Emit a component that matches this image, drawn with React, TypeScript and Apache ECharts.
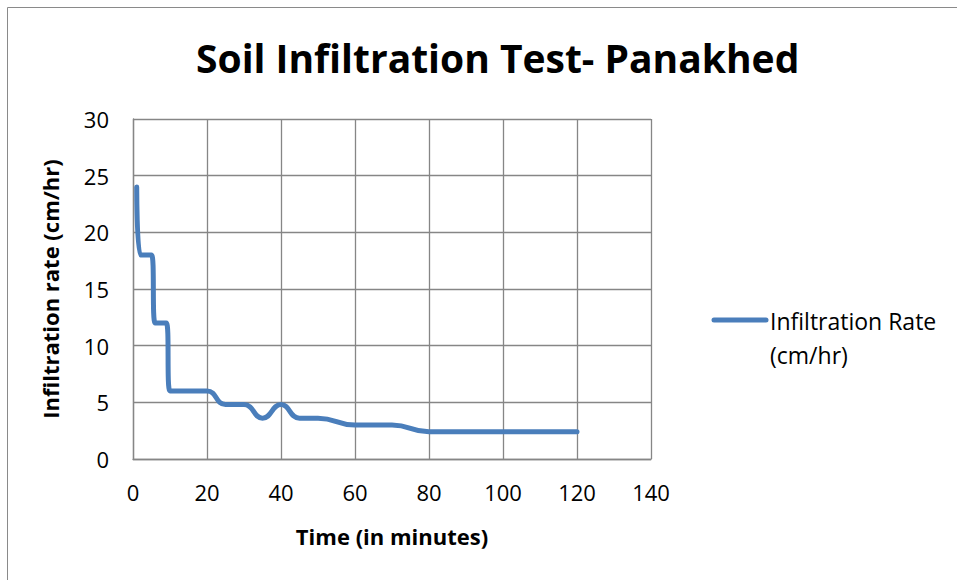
import React, { useEffect, useRef } from "react";
import * as echarts from "echarts";

const timeMinutes = [1, 2, 3, 4, 5, 6, 7, 8, 9, 10, 15, 20, 25, 30, 35, 40, 45, 50, 60, 70, 80, 90, 100, 110, 120];
const infiltrationRate = [24, 18, 18, 18, 18, 12, 12, 12, 12, 6, 6, 6, 4.8, 4.8, 3.6, 4.8, 3.6, 3.6, 3.0, 3.0, 2.4, 2.4, 2.4, 2.4, 2.4];
const titleText = "Soil Infiltration Test- Panakhed";
const legendLines = ["Infiltration Rate", "(cm/hr)"];
const seriesName = legendLines.join(" ");
const xAxisTitle = "Time (in minutes)";
const yAxisTitle = "Infiltration rate (cm/hr)";

export default function App() {
  const ref = useRef<HTMLDivElement>(null);
  useEffect(() => {
    if (!ref.current) return;
    const chart = echarts.init(ref.current, null, { renderer: "svg" });
    const font = "'Open Sans', Lato, sans-serif";
    const gridColor = "#868686";
    const lineColor = "#4a7ebb";
    chart.setOption({
      animation: false,
      backgroundColor: "#ffffff",
      textStyle: { fontFamily: font },
      title: {
        text: titleText,
        left: 191,
        top: 33,
        textStyle: { fontFamily: font, fontWeight: "bold", fontSize: 39, color: "#000" },
      },
      graphic: [
        {
          type: "rect",
          shape: { x: 7.5, y: 7.5, width: 1000, height: 1000 },
          style: { fill: "none", stroke: "#8a8a8a", lineWidth: 1 },
          silent: true,
        },
        {
          type: "line",
          shape: { x1: 714, y1: 320, x2: 766, y2: 320 },
          style: { stroke: lineColor, lineWidth: 5, lineCap: "round" },
          silent: true,
        },
        {
          type: "text",
          x: 770,
          y: 321,
          style: { text: legendLines[0], font: "23px 'Open Sans', sans-serif", fill: "#000", verticalAlign: "middle", align: "left" },
          silent: true,
        },
        {
          type: "text",
          x: 770,
          y: 355,
          style: { text: legendLines[1], font: "23px 'Open Sans', sans-serif", fill: "#000", verticalAlign: "middle", align: "left" },
          silent: true,
        },
      ],
      grid: { left: 133, right: 306, top: 119, bottom: 121 },
      xAxis: {
        type: "value",
        min: 0,
        max: 140,
        interval: 20,
        name: xAxisTitle,
        nameLocation: "middle",
        nameGap: 66,
        nameTextStyle: { fontFamily: font, fontWeight: "bold", fontSize: 22, color: "#000" },
        axisLine: { show: true, lineStyle: { color: gridColor, width: 1.3 } },
        axisTick: { show: false },
        axisLabel: { fontFamily: font, fontSize: 22, color: "#000", margin: 22 },
        splitLine: { show: true, lineStyle: { color: gridColor, width: 1.3 } },
      },
      yAxis: {
        type: "value",
        min: 0,
        max: 30,
        interval: 5,
        name: yAxisTitle,
        nameLocation: "middle",
        nameGap: 72,
        nameRotate: 90,
        nameTextStyle: { fontFamily: font, fontWeight: "bold", fontSize: 22, color: "#000" },
        axisLine: { show: true, lineStyle: { color: gridColor, width: 1.3 } },
        axisTick: { show: false },
        axisLabel: { fontFamily: font, fontSize: 22, color: "#000", margin: 24 },
        splitLine: { show: true, lineStyle: { color: gridColor, width: 1.3 } },
      },
      series: [
        {
          name: seriesName,
          type: "line",
          data: timeMinutes.map((t, i) => [t, infiltrationRate[i]]),
          smooth: 0.5,
          showSymbol: false,
          symbol: "none",
          lineStyle: { color: lineColor, width: 5, cap: "round", join: "round" },
          itemStyle: { color: lineColor },
        },
      ],
    });
    return () => chart.dispose();
  }, []);
  return <div ref={ref} style={{ width: 957, height: 580, position: "absolute", left: 0, top: 0 }} />;
}
